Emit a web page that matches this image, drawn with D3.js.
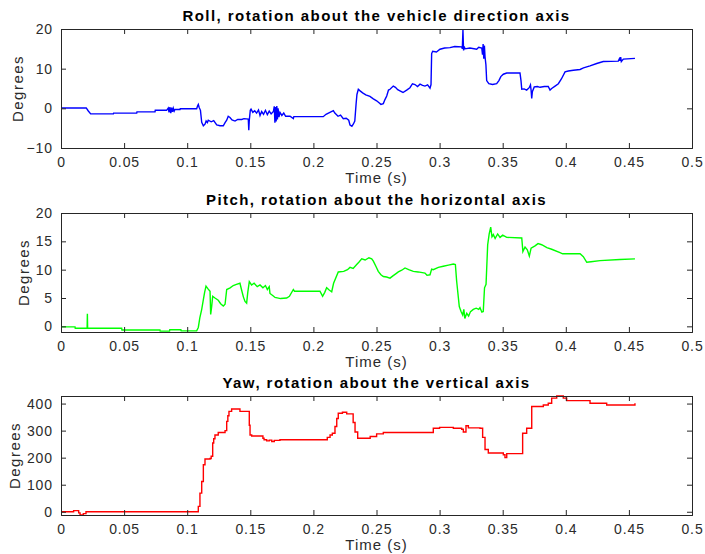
<!DOCTYPE html>
<html>
<head>
<meta charset="utf-8">
<script src="https://cdn.jsdelivr.net/npm/d3@7"></script>
<style>
  body { margin: 0; background: #fff; }
  text { font-family: "Liberation Sans", Arial, Helvetica, sans-serif; }
</style>
</head>
<body>
<svg id="chart" width="705" height="554"></svg>
<script>
// time (s), degrees
let rollPts = [[0,0.1],[0.020,0.1],[0.0215,-0.6],[0.0235,-1.4],[0.0415,-1.4],[0.0417,-1.2],[0.060,-1.2],[0.0602,-0.9],[0.0745,-0.9],[0.0747,-0.5],[0.0837,-0.5],[0.085,0.1],[0.0856,-1.0],[0.0863,0.3],[0.087,-1.2],[0.0877,0.2],[0.0884,-0.9],[0.089,0.0],[0.0897,-0.7],[0.0903,-0.3],[0.0943,-0.3],[0.0945,-0.1],[0.1075,-0.1],[0.1082,0.6],[0.1088,1.0],[0.1095,0.2],[0.1105,-0.5],[0.1115,-3.5],[0.1128,-4.4],[0.1141,-4.0],[0.1150,-3.2],[0.1160,-3.6],[0.1167,-3.0],[0.119,-3.4],[0.121,-3.1],[0.1234,-4.2],[0.126,-4.4],[0.1286,-4.4],[0.1300,-3.6],[0.1313,-3.0],[0.1325,-2.0],[0.1339,-2.3],[0.1355,-2.9],[0.1379,-3.2],[0.140,-2.8],[0.1432,-2.8],[0.145,-2.6],[0.1484,-2.7],[0.1488,-5.5],[0.1492,-3.0],[0.1500,-0.5],[0.1506,-0.2],[0.152,-1.0],[0.1535,-0.6],[0.155,-1.2],[0.1565,-0.4],[0.1577,-1.8],[0.159,-0.8],[0.1605,-1.5],[0.162,-0.5],[0.1635,-1.6],[0.165,-0.7],[0.1665,-1.4],[0.1683,-0.8],[0.169,0.5],[0.1695,-3.6],[0.170,0.3],[0.1705,-3.3],[0.171,0.6],[0.1715,-2.8],[0.172,0.0],[0.1727,-2.2],[0.1735,-1.0],[0.175,-1.8],[0.1765,-1.2],[0.178,-2.0],[0.1815,-2.0],[0.1841,-2.6],[0.1845,-2.1],[0.2078,-2.1],[0.210,-1.5],[0.2158,-0.6],[0.217,-1.2],[0.2195,-2.0],[0.2215,-1.7],[0.2237,-2.6],[0.226,-2.5],[0.228,-3.0],[0.229,-4.2],[0.2305,-4.5],[0.2316,-4.0],[0.2328,-3.2],[0.2338,1.0],[0.2345,3.5],[0.2356,4.8],[0.237,4.4],[0.239,3.9],[0.2415,3.4],[0.2448,3.0],[0.2475,2.4],[0.2501,1.9],[0.252,1.4],[0.2535,1.0],[0.2554,1.2],[0.2567,2.2],[0.2581,3.1],[0.2595,4.6],[0.2607,4.8],[0.2633,5.6],[0.265,5.3],[0.2668,4.7],[0.2686,4.4],[0.271,4.0],[0.2739,4.6],[0.2765,5.2],[0.2785,6.2],[0.2805,6.0],[0.2825,5.5],[0.2845,6.1],[0.2865,5.8],[0.2884,5.6],[0.2905,5.9],[0.2924,5.1],[0.2932,6.0],[0.2937,13.8],[0.2945,14.4],[0.2975,14.2],[0.3003,14.9],[0.304,15.2],[0.3082,15.3],[0.312,15.6],[0.3175,15.5],[0.318,15.0],[0.3185,19.8],[0.319,14.6],[0.3195,15.6],[0.3201,15.0],[0.324,15.2],[0.3294,14.9],[0.331,15.4],[0.3334,15.2],[0.334,13.5],[0.3345,16.2],[0.335,12.5],[0.3355,15.8],[0.336,13.0],[0.3367,11.0],[0.3373,7.0],[0.339,6.2],[0.342,6.0],[0.3452,6.2],[0.347,7.0],[0.3485,8.0],[0.3505,8.6],[0.3532,8.9],[0.3637,8.9],[0.3645,7.0],[0.3651,4.8],[0.367,4.9],[0.369,4.6],[0.371,5.2],[0.372,5.9],[0.3725,4.6],[0.373,2.5],[0.3735,4.2],[0.375,5.4],[0.3775,5.5],[0.3796,5.3],[0.383,5.5],[0.3861,5.5],[0.3875,4.6],[0.3888,5.0],[0.3915,5.6],[0.3941,6.2],[0.3965,7.4],[0.3994,9.2],[0.402,9.4],[0.406,9.6],[0.4113,9.8],[0.414,10.2],[0.4192,10.7],[0.4245,11.3],[0.4297,11.8],[0.4416,11.9],[0.4425,12.5],[0.443,12.0],[0.4435,12.9],[0.444,11.8],[0.4456,12.4],[0.4548,12.6]];

let pitchPts = [[0,-0.1],[0.0111,-0.1],[0.0113,-0.35],[0.0207,-0.35],[0.0209,2.2],[0.0211,-0.35],[0.0481,-0.35],[0.0483,-0.65],[0.0784,-0.65],[0.0786,-0.85],[0.086,-0.85],[0.0862,-0.6],[0.095,-0.6],[0.0952,-0.8],[0.1075,-0.8],[0.1088,-0.2],[0.1100,1.5],[0.1115,3.0],[0.1128,4.7],[0.1138,6.0],[0.1149,7.1],[0.1165,6.6],[0.1181,6.2],[0.1186,2.1],[0.1194,3.5],[0.1202,5.3],[0.122,5.0],[0.1246,4.6],[0.1265,4.0],[0.1286,3.6],[0.1300,3.9],[0.1313,6.5],[0.134,6.8],[0.1365,7.2],[0.139,7.4],[0.1418,7.6],[0.143,6.5],[0.1445,5.2],[0.1458,4.4],[0.1471,4.1],[0.148,6.0],[0.1492,7.9],[0.151,7.3],[0.153,7.6],[0.1555,7.0],[0.1577,7.3],[0.160,6.8],[0.162,7.2],[0.1635,6.5],[0.165,7.0],[0.1656,5.8],[0.168,5.4],[0.1696,5.1],[0.174,4.9],[0.1788,5.0],[0.181,5.3],[0.1841,6.5],[0.185,6.2],[0.2052,6.2],[0.2073,5.3],[0.209,6.0],[0.2105,6.8],[0.2125,6.4],[0.2145,6.1],[0.216,7.6],[0.2197,9.6],[0.224,9.7],[0.227,10.0],[0.229,10.4],[0.2315,10.2],[0.2343,10.9],[0.236,11.3],[0.2383,11.9],[0.241,11.7],[0.2440,12.1],[0.2462,11.9],[0.2475,11.5],[0.2495,10.6],[0.2514,9.7],[0.2535,9.1],[0.2554,8.8],[0.258,8.7],[0.2607,8.5],[0.263,8.9],[0.2655,9.3],[0.2673,9.6],[0.270,9.9],[0.2726,10.3],[0.2755,10.0],[0.2792,9.7],[0.2830,9.6],[0.2884,9.4],[0.290,9.0],[0.2924,9.1],[0.2937,10.1],[0.295,10.0],[0.2990,10.4],[0.3029,10.6],[0.3070,10.8],[0.3109,11.0],[0.3125,10.9],[0.3135,8.0],[0.3156,3.5],[0.3170,2.6],[0.3183,2.0],[0.3192,3.0],[0.3200,1.4],[0.3215,2.3],[0.323,1.8],[0.3245,2.6],[0.3267,3.0],[0.3290,3.2],[0.3310,3.0],[0.332,3.3],[0.3335,2.5],[0.3346,2.6],[0.3356,6.8],[0.3368,7.4],[0.3381,14.4],[0.3393,16.3],[0.3405,17.5],[0.3415,15.8],[0.3426,16.2],[0.344,15.5],[0.346,16.3],[0.3479,15.7],[0.350,16.1],[0.3532,15.7],[0.3651,15.6],[0.3660,13.2],[0.3677,14.0],[0.3695,13.5],[0.3711,12.4],[0.3725,13.8],[0.3756,14.2],[0.378,14.6],[0.3809,14.4],[0.385,13.9],[0.3888,13.6],[0.3954,13.0],[0.3975,12.8],[0.4113,12.8],[0.4139,12.3],[0.4166,11.3],[0.420,11.4],[0.4271,11.6],[0.4429,11.8],[0.4548,11.9]];

let yawPts = [[0,0],[0.0098,0],[0.0100,4],[0.0137,4],[0.0140,-4],[0.0151,-12],[0.0165,-12],[0.0177,-7],[0.0198,0],[0.1075,0],[0.1088,20],[0.1101,69],[0.1115,112],[0.1128,174],[0.1141,195],[0.1181,197],[0.1190,205],[0.1202,254],[0.1210,270],[0.122,284],[0.1246,293],[0.1286,293],[0.1300,300],[0.1313,334],[0.1322,355],[0.1331,371],[0.1352,380],[0.1405,380],[0.1418,371],[0.1484,371],[0.1492,320],[0.1498,284],[0.1511,280],[0.159,280],[0.1600,272],[0.1609,266],[0.163,262],[0.1650,265],[0.1670,260],[0.1690,264],[0.1735,266],[0.2092,266],[0.2110,275],[0.2132,284],[0.2150,290],[0.2171,315],[0.2185,345],[0.2197,364],[0.2230,368],[0.2264,362],[0.2303,362],[0.2315,330],[0.233,295],[0.2351,272],[0.2435,272],[0.2450,278],[0.2501,288],[0.2554,293],[0.2924,293],[0.295,309],[0.3000,312],[0.3109,309],[0.3175,305],[0.3188,295],[0.3209,318],[0.3228,310],[0.332,309],[0.3341,275],[0.336,230],[0.3386,217],[0.3505,211],[0.3518,200],[0.3532,215],[0.3637,215],[0.3658,290],[0.369,309],[0.373,389],[0.3822,395],[0.3861,401],[0.3888,420],[0.3928,428],[0.398,420],[0.4007,411],[0.4113,411],[0.4192,401],[0.4271,401],[0.4324,395],[0.4548,401]];

let xTicks = [0, 0.05, 0.1, 0.15, 0.2, 0.25, 0.3, 0.35, 0.4, 0.45, 0.5];
let rollTicks = [-10, 0, 10, 20];
let pitchTicks = [0, 5, 10, 15, 20];
let yawTicks = [0, 100, 200, 300, 400];

let svg = d3.select("#chart");
let left = 61, right = 692;

let x = d3.scaleLinear().domain([0, 0.5]).range([left, right]);

function drawPanel(opts) {
    let y = d3.scaleLinear().domain(opts.domain).range([opts.bottom, opts.top]);
    let g = svg.append('g');

    g.append('path')
        .datum(opts.data)
        .attr('fill', 'none')
        .attr('stroke', opts.color)
        .attr('stroke-width', 1.4)
        .attr('d', d3.line().curve(opts.curve || d3.curveLinear).x(d => x(d[0])).y(d => y(d[1])));

    let fmt = d => d3.format('~g')(d);

    let axB = g.append('g').attr('transform', `translate(0,${opts.bottom})`)
        .call(d3.axisBottom(x).tickValues(xTicks).tickSize(-5).tickPadding(9).tickFormat(fmt));
    let axT = g.append('g').attr('transform', `translate(0,${opts.top})`)
        .call(d3.axisTop(x).tickValues(xTicks).tickSize(-5).tickFormat(''));
    let axL = g.append('g').attr('transform', `translate(${left},0)`)
        .call(d3.axisLeft(y).tickValues(opts.ticks).tickSize(-5).tickPadding(8).tickFormat(fmt));
    let axR = g.append('g').attr('transform', `translate(${right},0)`)
        .call(d3.axisRight(y).tickValues(opts.ticks).tickSize(-5).tickFormat(''));

    [axB, axT, axL, axR].forEach(a => {
        a.select('.domain').attr('stroke', '#262626').attr('stroke-width', 1);
        a.selectAll('.tick line').attr('stroke', '#262626');
        a.selectAll('.tick text')
            .attr('fill', '#2b2b2b')
            .style('font-size', '14px')
            .style('letter-spacing', '0.9px')
            .style('font-family', '"Liberation Sans", Arial, sans-serif');
    });

    g.append('text')
        .attr('x', (left + right) / 2)
        .attr('y', opts.top - 8)
        .attr('text-anchor', 'middle')
        .style('font-size', '15px')
        .style('font-weight', 'bold')
        .style('letter-spacing', '1.45px')
        .attr('fill', '#000')
        .text(opts.title);

    g.append('text')
        .attr('x', (left + right) / 2)
        .attr('y', opts.bottom + 35)
        .attr('text-anchor', 'middle')
        .style('font-size', '15px')
        .style('letter-spacing', '1px')
        .attr('fill', '#2b2b2b')
        .text('Time (s)');

    g.append('text')
        .attr('transform', `translate(${opts.labelX},${(opts.top + opts.bottom) / 2}) rotate(-90)`)
        .attr('text-anchor', 'middle')
        .style('font-size', '15px')
        .style('letter-spacing', '1.5px')
        .attr('fill', '#2b2b2b')
        .text('Degrees');
}

drawPanel({ data: rollPts, color: '#0000ff', domain: [-10, 20], ticks: rollTicks,
    top: 29, bottom: 148, labelX: 23, title: 'Roll, rotation about the vehicle direction axis' });
drawPanel({ data: pitchPts, color: '#00ff00', domain: [-1, 20], ticks: pitchTicks,
    top: 213, bottom: 332, labelX: 29, title: 'Pitch, rotation about the horizontal axis' });
drawPanel({ data: yawPts, color: '#ff0000', domain: [-12, 428], ticks: yawTicks, curve: d3.curveStepAfter,
    top: 396, bottom: 515, labelX: 20, title: 'Yaw, rotation about the vertical axis' });
</script>
</body>
</html>
